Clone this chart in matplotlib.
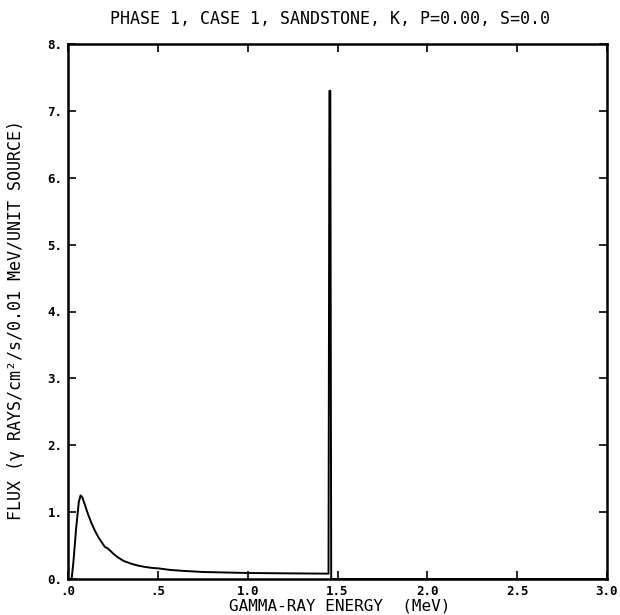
import matplotlib
matplotlib.use("Agg")
import matplotlib.pyplot as plt

plt.rcParams['font.family'] = ['DejaVu Sans Mono', 'DejaVu Sans']

title = "PHASE 1, CASE 1, SANDSTONE, K, P=0.00, S=0.0"
xlabel = "GAMMA-RAY ENERGY  (MeV)"
ylabel = "FLUX (\u03b3 RAYS/cm\u00b2/s/0.01 MeV/UNIT SOURCE)"

energy = [0.0, 0.02, 0.03, 0.045, 0.06, 0.07, 0.08, 0.095, 0.11, 0.13, 0.15, 0.17,
          0.19, 0.205, 0.22, 0.24, 0.26, 0.28, 0.31, 0.35, 0.39, 0.43, 0.47,
          0.5, 0.57, 0.65, 0.75, 0.83, 1.0, 1.2, 1.45, 1.455, 1.46, 1.465, 1.47, 3.0]
flux = [0.0, 0.0, 0.25, 0.75, 1.15, 1.25, 1.22, 1.1, 0.98, 0.84, 0.72, 0.62,
        0.54, 0.48, 0.46, 0.41, 0.36, 0.32, 0.27, 0.23, 0.2, 0.18, 0.165,
        0.16, 0.135, 0.12, 0.105, 0.1, 0.09, 0.085, 0.08, 7.3, 7.3, 0.0, 0.0, 0.0]

xticks = [0.0, 0.5, 1.0, 1.5, 2.0, 2.5, 3.0]
xticklabels = [".0", ".5", "1.0", "1.5", "2.0", "2.5", "3.0"]
yticks = [0, 1, 2, 3, 4, 5, 6, 7, 8]
yticklabels = ["0.", "1.", "2.", "3.", "4.", "5.", "6.", "7.", "8."]

W, H = 620, 615
fig = plt.figure(figsize=(W / 100, H / 100), dpi=100)
ax = fig.add_axes([68 / W, (H - 579) / H, (607 - 68) / W, (579 - 44) / H])
ax.plot(energy, flux, color="black", lw=1.4)
ax.set_xlim(0, 3.0)
ax.set_ylim(0, 8)
ax.set_xticks(xticks)
ax.set_xticklabels(xticklabels, fontsize=9, fontweight="bold")
ax.set_yticks(yticks)
ax.set_yticklabels(yticklabels, fontsize=9, fontweight="bold")
ax.tick_params(direction="in", length=6, width=1.2, top=True, right=True)
ax.tick_params(axis="x", pad=4)
ax.tick_params(axis="y", pad=4)
for s in ax.spines.values():
    s.set_linewidth(1.8)
fig.text(330 / W, (H - 19) / H, title, fontsize=12, ha="center", va="center")
fig.text(340 / W, (H - 606) / H, xlabel, fontsize=11.5, ha="center", va="center")
fig.text(16 / W, (H - 320) / H, ylabel, fontsize=12, ha="center", va="center",
         rotation=90)
fig.savefig("out.png", dpi=100)
